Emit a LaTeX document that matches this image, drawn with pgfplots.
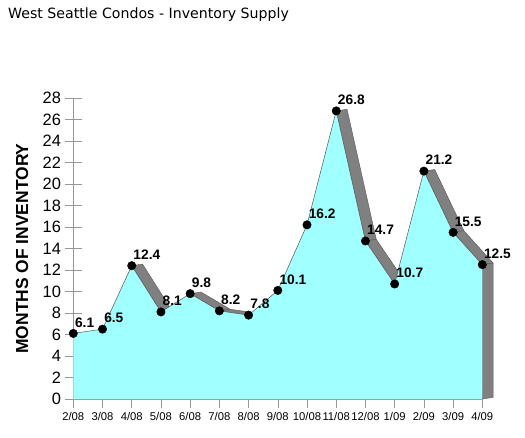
\documentclass[border=0pt]{standalone}
\usepackage{pgfplots}
\usepackage{pgfplotstable}
\pgfplotsset{compat=1.18}
\usepackage{fontspec}
\setmainfont{Liberation Sans}
\newfontfamily\titlefont{DejaVu Sans}
\definecolor{areacyan}{RGB}{160,255,255}
\definecolor{facegray}{RGB}{128,128,128}
\definecolor{edgegray}{RGB}{85,85,85}
\definecolor{axisgray}{RGB}{150,150,150}
\pgfplotstableread{
x y
0 6.1
1 6.5
2 12.4
3 8.1
4 9.8
5 8.2
6 7.8
7 10.1
8 16.2
9 26.8
10 14.7
11 10.7
12 21.2
13 15.5
14 12.5
}\inventory
\begin{document}
\begin{tikzpicture}
\begin{axis}[
 scale only axis, width=409bp, height=301bp,
 xmin=0, xmax=14, ymin=0, ymax=28,
 clip=false,
 axis x line*=bottom, axis y line*=left,
 axis line style={axisgray, line width=0.6bp},
 tick style={axisgray, line width=0.6bp},
 tick align=center, major tick length=17.4bp,
 xtick={0,...,14},
 xticklabels={2/08,3/08,4/08,5/08,6/08,7/08,8/08,9/08,10/08,11/08,12/08,1/09,2/09,3/09,4/09},
 ytick={0,2,...,28},
 /pgf/number format/assume math mode=true,
 xticklabel style={font=\fontsize{11.3}{12}\selectfont, inner sep=2bp, yshift=-2.5bp},
 yticklabel style={font=\fontsize{16.5}{18}\selectfont, inner sep=3.5bp},
 every axis y label/.style={at={(axis description cs:0,0.5)}, xshift=-51.3bp, rotate=90, anchor=center, font=\fontsize{17.5}{19}\selectfont\bfseries},
 ylabel={MONTHS OF INVENTORY},
]
% top faces of descending segments (3-D depth)
\addplot[fill=facegray, draw=edgegray, line width=0.4bp, forget plot] coordinates {(2,12.4)(2.37,12.55)(3.37,8.25)(3,8.1)} --cycle;
\addplot[fill=facegray, draw=edgegray, line width=0.4bp, forget plot] coordinates {(4,9.8)(4.37,9.95)(5.37,8.35)(5,8.2)} --cycle;
\addplot[fill=facegray, draw=edgegray, line width=0.4bp, forget plot] coordinates {(5,8.2)(5.37,8.35)(6.37,7.95)(6,7.8)} --cycle;
\addplot[fill=facegray, draw=edgegray, line width=0.4bp, forget plot] coordinates {(9,26.8)(9.37,26.95)(10.37,14.85)(10,14.7)} --cycle;
\addplot[fill=facegray, draw=edgegray, line width=0.4bp, forget plot] coordinates {(10,14.7)(10.37,14.85)(11.37,10.85)(11,10.7)} --cycle;
\addplot[fill=facegray, draw=edgegray, line width=0.4bp, forget plot] coordinates {(12,21.2)(12.37,21.35)(13.37,15.65)(13,15.5)} --cycle;
\addplot[fill=facegray, draw=edgegray, line width=0.4bp, forget plot] coordinates {(13,15.5)(13.37,15.65)(14.37,12.65)(14,12.5)} --cycle;
% side wall
\addplot[fill=facegray, draw=edgegray, line width=0.4bp, forget plot] coordinates {(14,12.5)(14.37,12.65)(14.37,0.15)(14,0)} --cycle;
% front face
\addplot[fill=areacyan, draw=none, forget plot] table {\inventory} \closedcycle;
% line, points, labels
\addplot[edgegray, line width=0.5bp, mark=*, mark size=4.2bp,
  mark options={fill=black, draw=black, solid},
  nodes near coords,
  every node near coord/.append style={anchor=base west, inner sep=0pt, xshift=1.5bp, yshift=6.2bp,
    font=\fontsize{13.8}{15}\selectfont\bfseries, text=black},
  /pgf/number format/.cd, fixed, fixed zerofill, precision=1] table {\inventory};
\end{axis}
\node[anchor=base west, inner sep=0pt, font=\titlefont\fontsize{14.2}{16}\selectfont] at ([shift={(-65.3bp,380bp)}]current axis.south west) {West Seattle Condos - Inventory Supply};
\pgfresetboundingbox
\path[use as bounding box] ([shift={(-73.3bp,-39bp)}]current axis.south west) rectangle ++(525bp,438bp);
\end{tikzpicture}
\end{document}
